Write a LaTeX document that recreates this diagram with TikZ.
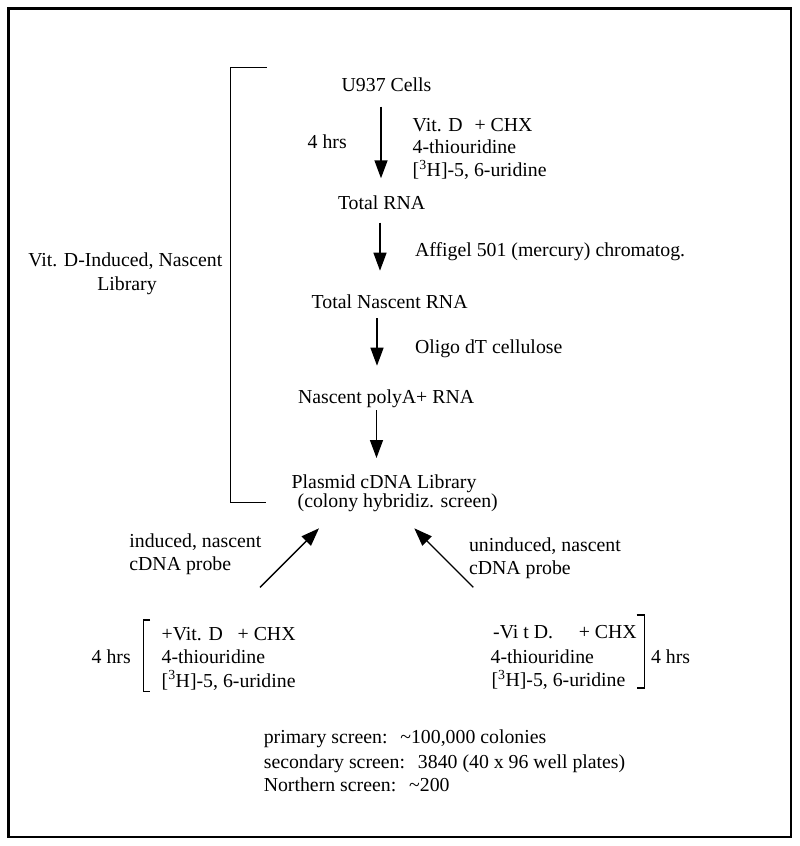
\documentclass[tikz,border=0pt]{standalone}
\usepackage{fontspec}
\setmainfont{Liberation Serif}
\usetikzlibrary{arrows.meta}
\begin{document}
\begin{tikzpicture}[x=1pt,y=-1pt,
  every node/.style={font=\fontsize{19.8}{23}\selectfont, inner sep=0pt, outer sep=0pt},
  txt/.style={anchor=base west},
  flow/.style={line width=1.4pt, -{Triangle[length=18pt,width=13pt]}},
  brk/.style={line width=1.4pt},
  frame/.style={line width=2.4pt}]
\useasboundingbox (0,0) rectangle (800,846);
\draw[frame] (8.5,8.5) rectangle (791,837);

% main column
\node[txt] (u937) at (341.7,91.7) {U937 Cells};
\node[txt] (hrsa) at (307.7,148) {4 hrs};
\node[txt] (c1a) at (412.7,131.7) {Vit. D\hspace{0.6em}+ CHX};
\node[txt] (c1b) at (412.7,153.8) {4-thiouridine};
\node[txt] (c1c) at (412.7,176.7) {[\textsuperscript{3}H]-5, 6-uridine};
\node[txt] (trna) at (338,209) {Total RNA};
\node[txt] (affi) at (415,256.7) {Affigel 501 (mercury) chromatog.};
\node[txt] (tnas) at (311.7,308) {Total Nascent RNA};
\node[txt] (olig) at (415,353) {Oligo dT cellulose};
\node[txt] (polya) at (298,403) {Nascent polyA+ RNA};
\node[txt] (plas) at (291.7,488) {Plasmid cDNA Library};
\node[txt] (colo) at (297.7,507.5) {(colony hybridiz. screen)};

% library bracket label
\node[txt] (lib1) at (28.3,266.7) {Vit. D-Induced, Nascent};
\node[anchor=base] (lib2) at (127,290) {Library};

% probes
\node[txt] (ind1) at (129.4,547.7) {induced, nascent};
\node[txt] (ind2) at (129.4,570.5) {cDNA probe};
\node[txt] (uni1) at (469,551.7) {uninduced, nascent};
\node[txt] (uni2) at (469,574.5) {cDNA probe};

% left conditions
\node[txt] (hrsl) at (91.7,663.3) {4 hrs};
\node[txt] (l1) at (161.7,640) {+Vit. D\hspace{0.75em}+ CHX};
\node[txt] (l2) at (161.7,663.3) {4-thiouridine};
\node[txt] (l3) at (161.7,687) {[\textsuperscript{3}H]-5, 6-uridine};

% right conditions
\node[anchor=base east] (r1) at (636.7,638) {-Vi t D.\hspace{1.3em}+ CHX};
\node[txt] (r2) at (490.6,663.3) {4-thiouridine};
\node[txt] (r3) at (491.5,686.7) {[\textsuperscript{3}H]-5, 6-uridine};
\node[txt] (hrsr) at (651,663.3) {4 hrs};

% screens
\node[txt] (s1) at (263.8,743.3) {primary screen:\hspace{0.65em}\textasciitilde100,000 colonies};
\node[txt] (s2) at (263.8,768.3) {secondary screen:\hspace{0.65em}3840 (40 x 96 well plates)};
\node[txt] (s3) at (263.8,791.7) {Northern screen:\hspace{0.65em}\textasciitilde200};

% arrow end points
\coordinate (a1s) at (381,106.7);  \coordinate (a1e) at (381,178.3);
\coordinate (a2s) at (380,222.7);  \coordinate (a2e) at (380,270.7);
\coordinate (a3s) at (377,318);    \coordinate (a3e) at (377,365.7);
\coordinate (a4s) at (376.5,410);  \coordinate (a4e) at (376.5,458);
\coordinate (pls) at (260,587.3);  \coordinate (ple) at (319,528.3);
\coordinate (prs) at (473.3,587.3);\coordinate (pre) at (414.3,528.3);

\draw[flow] (a1s) -- (a1e);
\draw[flow] (a2s) -- (a2e);
\draw[flow] (a3s) -- (a3e);
\draw[flow] (a4s) -- (a4e);
\draw[flow] (pls) -- (ple);
\draw[flow] (prs) -- (pre);

% brackets
\draw[brk] (266.7,67.7) -- (230.5,67.7) -- (230.5,502.7) -- (265.7,502.7);
\draw[brk] (150,620) -- (143.3,620) -- (143.3,691.7) -- (150,691.7);
\draw[brk] (636.7,615) -- (644.3,615) -- (644.3,688) -- (636.7,688);
\end{tikzpicture}
\end{document}
